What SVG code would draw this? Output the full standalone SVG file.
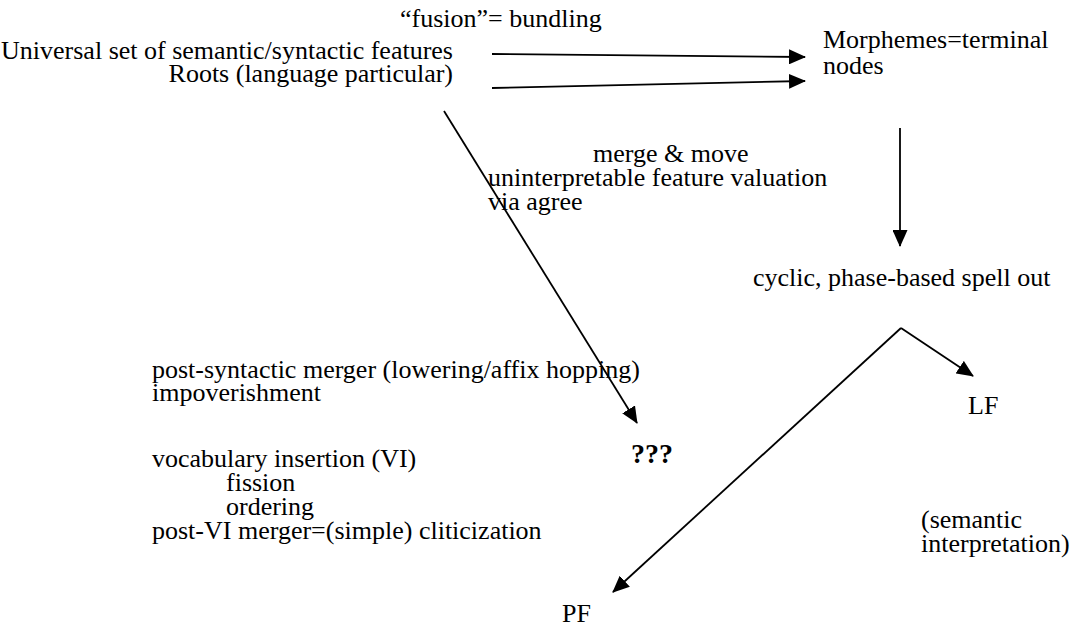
<svg xmlns="http://www.w3.org/2000/svg" width="1083" height="628" viewBox="0 0 1083 628">
<style>
text{font-family:"Liberation Serif","Times New Roman",serif;font-size:26px;fill:#000}
.b{font-weight:bold;font-size:28px}
.c{stroke:#000;stroke-width:1.8;fill:none}
</style>
<defs>
<marker id="ah" markerUnits="userSpaceOnUse" markerWidth="17" markerHeight="15" refX="16" refY="7.5" orient="auto">
<path d="M0,0 L17,7.5 L0,15 z" fill="#000"/>
</marker>
</defs>
<rect width="1083" height="628" fill="#fff"/>
<g id="connectors">
<line class="c" x1="492" y1="54" x2="805" y2="57" marker-end="url(#ah)"/>
<line class="c" x1="492" y1="88" x2="805" y2="81" marker-end="url(#ah)"/>
<line class="c" x1="444" y1="111" x2="637" y2="423" marker-end="url(#ah)"/>
<line class="c" x1="900" y1="128" x2="900" y2="246" marker-end="url(#ah)"/>
<line class="c" x1="901" y1="328" x2="973" y2="376" marker-end="url(#ah)"/>
<line class="c" x1="901" y1="328" x2="613" y2="592" marker-end="url(#ah)"/>
</g>
<g id="fusion"><text x="400" y="27">“fusion”= bundling</text></g>
<g id="features"><text x="453" y="59" text-anchor="end">Universal set of semantic/syntactic features</text></g>
<g id="roots"><text x="453" y="82" text-anchor="end">Roots (language particular)</text></g>
<g id="morphemes"><text x="823" y="48">Morphemes=terminal</text><text x="823" y="74">nodes</text></g>
<g id="syntax-ops"><text x="593" y="162">merge &amp; move</text><text x="488" y="186">uninterpretable feature valuation</text><text x="488" y="210">via agree</text></g>
<g id="spellout"><text x="753" y="286">cyclic, phase-based spell out</text></g>
<g id="morph-ops"><text x="152" y="378">post-syntactic merger (lowering/affix hopping)</text><text x="152" y="401">impoverishment</text><text x="152" y="467">vocabulary insertion (VI)</text><text x="226" y="491">fission</text><text x="226" y="515">ordering</text><text x="152" y="539">post-VI merger=(simple) cliticization</text></g>
<g id="unknown"><text class="b" x="631" y="463">???</text></g>
<g id="lf"><text x="968" y="414">LF</text></g>
<g id="semantic"><text x="921" y="528">(semantic</text><text x="921" y="552">interpretation)</text></g>
<g id="pf"><text x="562" y="622">PF</text></g>
</svg>
